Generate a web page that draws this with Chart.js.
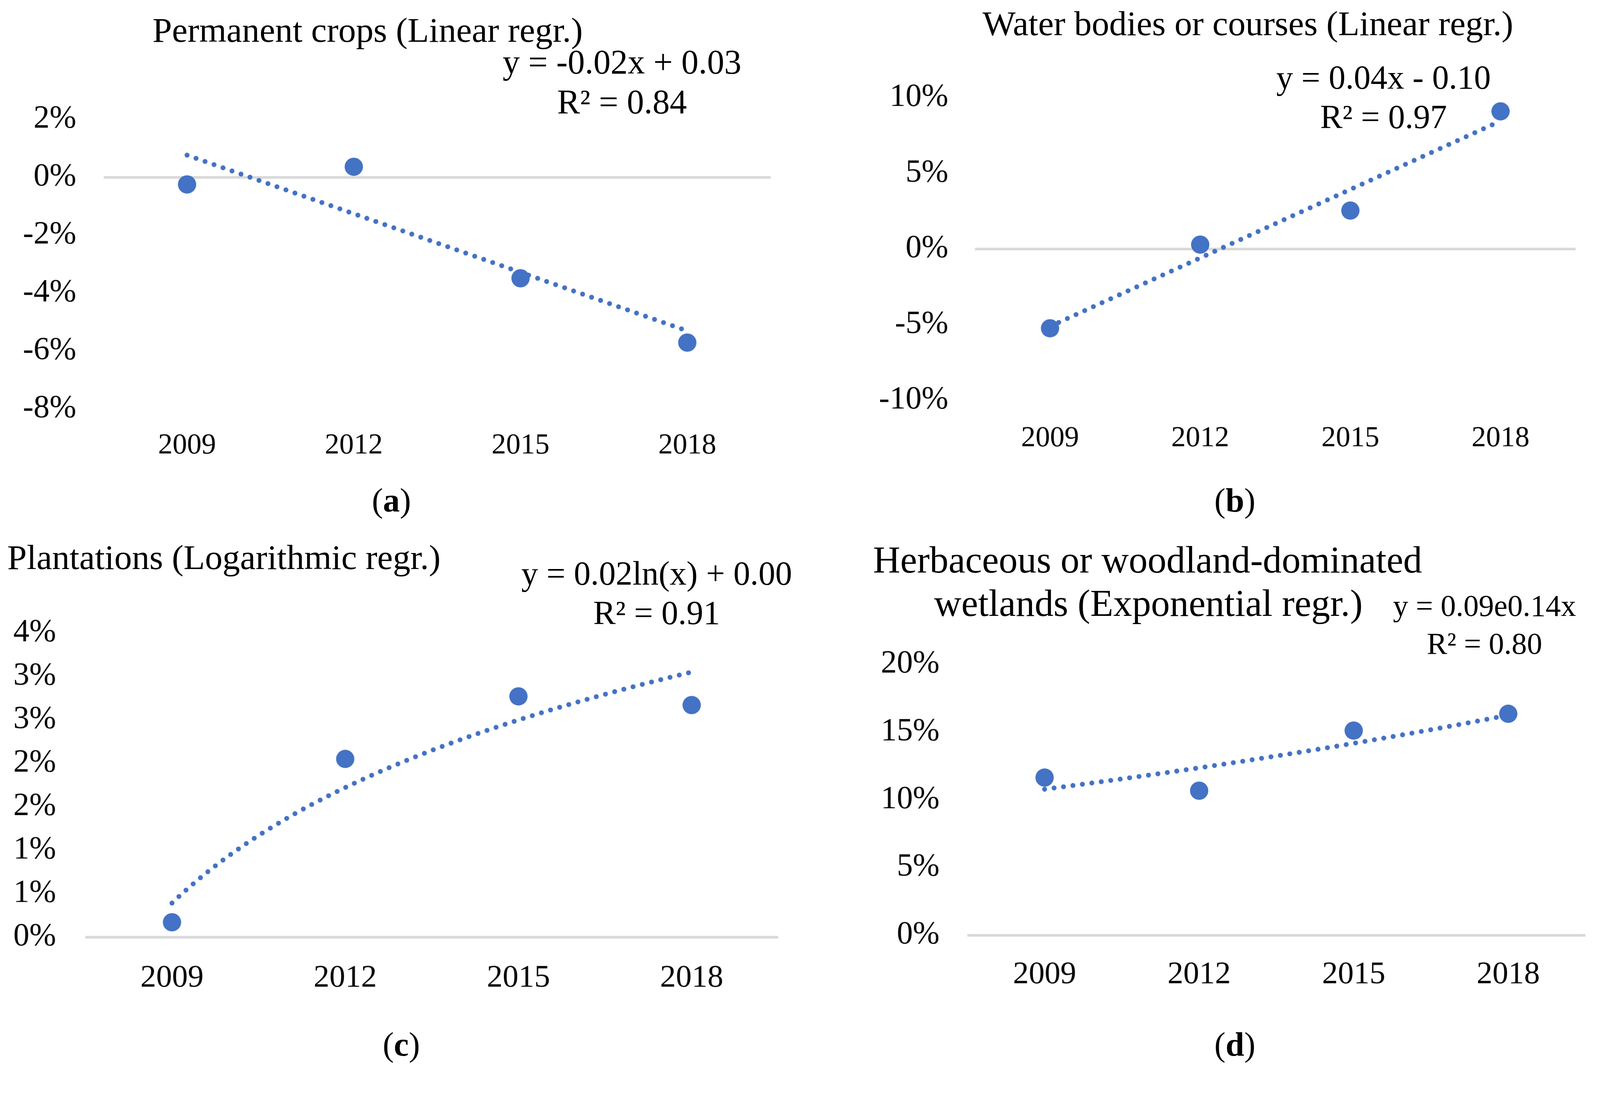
<!DOCTYPE html>
<html>
<head>
<meta charset="utf-8">
<script src="https://cdn.jsdelivr.net/npm/chart.js@4.4.0/dist/chart.umd.min.js"></script>
<style>
  html, body { margin: 0; padding: 0; background: #fff; overflow: hidden; }
  body { font-family: "Liberation Serif", "Times New Roman", serif; color: #000; }
  #page { position: absolute; left: 0; top: 0; width: 4198px; height: 2814px; transform-origin: 0 0; }
  canvas { position: absolute; }
  .t { position: absolute; white-space: nowrap; line-height: 1; z-index: 2; }
  .c { transform: translateX(-50%); }
</style>
</head>
<body>
<div id="page">

<canvas id="chartA" width="2099" height="1400" style="left:0px;top:0px"></canvas>
<canvas id="chartB" width="2099" height="1400" style="left:2099px;top:0px"></canvas>
<canvas id="chartC" width="2099" height="1414" style="left:0px;top:1400px"></canvas>
<canvas id="chartD" width="2099" height="1414" style="left:2099px;top:1400px"></canvas>

<!-- titles, trendline labels, captions -->
<div class="t" style="left:400px;top:33px;font-size:92px">Permanent crops (Linear regr.)</div>
<div class="t c" style="left:1632px;top:118px;font-size:90px">y = -0.02x + 0.03</div>
<div class="t c" style="left:1632px;top:222px;font-size:90px">R² = 0.84</div>
<div class="t c" style="left:1027px;top:1270px;font-size:88px">(<b>a</b>)</div>

<div class="t" style="left:2578px;top:15px;font-size:92px">Water bodies or courses (Linear regr.)</div>
<div class="t c" style="left:3630px;top:160px;font-size:88px">y = 0.04x - 0.10</div>
<div class="t c" style="left:3630px;top:263px;font-size:88px">R² = 0.97</div>
<div class="t c" style="left:3240px;top:1270px;font-size:88px">(<b>b</b>)</div>

<div class="t" style="left:19px;top:1416px;font-size:92px">Plantations (Logarithmic regr.)</div>
<div class="t c" style="left:1723px;top:1461px;font-size:88px">y = 0.02ln(x) + 0.00</div>
<div class="t c" style="left:1723px;top:1565px;font-size:88px">R² = 0.91</div>
<div class="t c" style="left:1053px;top:2697px;font-size:88px">(<b>c</b>)</div>

<div class="t c" style="left:3011px;top:1419px;font-size:99px">Herbaceous or woodland-dominated</div>
<div class="t c" style="left:3013px;top:1533px;font-size:99px">wetlands (Exponential regr.)</div>
<div class="t c" style="left:3895px;top:1549px;font-size:80px">y = 0.09e0.14x</div>
<div class="t c" style="left:3895px;top:1649px;font-size:80px">R² = 0.80</div>
<div class="t c" style="left:3240px;top:2697px;font-size:88px">(<b>d</b>)</div>

</div>

<script>
// categories
const years = ['2009', '2012', '2015', '2018'];
const xIndex = [1, 2, 3, 4];

// change in %
const cropsValues = [-0.25, 0.36, -3.49, -5.71];
const waterValues = [-5.25, 0.28, 2.53, 9.09];
const plantValues = [0.17, 2.05, 2.77, 2.67];
const wetlandValues = [11.63, 10.66, 15.10, 16.34];

// y tick values
const cropsTicks = [-8, -6, -4, -2, 0, 2];
const waterTicks = [-10, -5, 0, 5, 10];
const plantTicks = [0, 0.5, 1, 1.5, 2, 2.5, 3, 3.5];
const wetlandTicks = [0, 5, 10, 15, 20];

const blue = '#4472C4';
const serif = "'Liberation Serif', 'Times New Roman', serif";

// fit the whole 4198x2814 layout into whatever viewport we really get
const page = document.getElementById('page');
const fit = Math.min(window.innerWidth / 4198, window.innerHeight / 2814);
page.style.transform = 'scale(' + fit + ')';
document.body.style.width = (4198 * fit) + 'px';
document.body.style.height = (2814 * fit) + 'px';

// least squares, like the excel trendlines
function leastSquares(xs, ys) {
  const n = xs.length;
  const mx = xs.reduce((a, b) => a + b, 0) / n;
  const my = ys.reduce((a, b) => a + b, 0) / n;
  let sxy = 0, sxx = 0;
  for (let i = 0; i < n; i++) {
    sxy += (xs[i] - mx) * (ys[i] - my);
    sxx += (xs[i] - mx) * (xs[i] - mx);
  }
  const slope = sxy / sxx;
  return { slope: slope, icept: my - slope * mx };
}

function trendPoints(values, kind) {
  let f;
  if (kind === 'log') {
    const r = leastSquares(xIndex.map(Math.log), values);
    f = x => r.icept + r.slope * Math.log(x);
  } else if (kind === 'exp') {
    const r = leastSquares(xIndex, values.map(Math.log));
    f = x => Math.exp(r.icept + r.slope * x);
  } else {
    const r = leastSquares(xIndex, values);
    f = x => r.icept + r.slope * x;
  }
  const pts = [];
  const steps = kind === 'linear' ? 1 : 90;
  for (let i = 0; i <= steps; i++) {
    const x = 1 + 3 * i / steps;
    pts.push({ x: x, y: f(x) });
  }
  return pts;
}

function drawPanel(id, values, ticks, kind, box) {
  new Chart(document.getElementById(id), {
    type: 'scatter',
    data: {
      datasets: [
        {
          data: values.map((v, i) => ({ x: xIndex[i], y: v })),
          pointRadius: 24,
          pointHoverRadius: 24,
          backgroundColor: blue,
          borderWidth: 0,
          clip: false,
          order: 1
        },
        {
          data: trendPoints(values, kind),
          showLine: true,
          pointRadius: 0,
          borderColor: blue,
          borderWidth: 13,
          borderDash: [0, 25],
          borderCapStyle: 'round',
          tension: 0,
          clip: false,
          order: 2
        }
      ]
    },
    options: {
      responsive: false,
      animation: false,
      devicePixelRatio: 1,
      layout: {
        padding: {
          left: 0,
          top: box.T - box.top,
          right: box.left + box.w - box.R,
          bottom: box.top + box.h - box.B - 150
        }
      },
      plugins: {
        legend: { display: false },
        tooltip: { enabled: false }
      },
      scales: {
        x: {
          type: 'linear',
          min: 0.5,
          max: 4.5,
          afterBuildTicks: s => { s.ticks = xIndex.map(v => ({ value: v })); },
          afterFit: s => { s.height = 150; },
          grid: { display: false },
          border: { display: false },
          ticks: {
            padding: box.xPad,
            maxRotation: 0,
            color: '#000',
            font: { family: serif, size: box.xFont },
            callback: v => years[v - 1]
          }
        },
        y: {
          type: 'linear',
          min: ticks[0],
          max: ticks[ticks.length - 1],
          afterBuildTicks: s => { s.ticks = ticks.map(v => ({ value: v })); },
          afterFit: s => { s.width = box.L - box.left; },
          grid: {
            drawTicks: false,
            color: c => c.tick && c.tick.value === 0 ? '#D9D9D9' : 'rgba(0,0,0,0)',
            lineWidth: c => c.tick && c.tick.value === 0 ? 7 : 0
          },
          border: { display: false },
          ticks: {
            padding: box.yPad,
            color: '#000',
            font: { family: serif, size: box.yFont },
            callback: v => Math.round(v) + '%'
          }
        }
      }
    }
  });
}

drawPanel('chartA', cropsValues, cropsTicks, 'linear',
  { left: 0, top: 0, w: 2099, h: 1400, L: 272, T: 313, R: 2022, B: 1073, yPad: 72, xPad: 43, xFont: 76, yFont: 84 });
drawPanel('chartB', waterValues, waterTicks, 'linear',
  { left: 2099, top: 0, w: 2099, h: 1400, L: 2558, T: 256, R: 4134, B: 1050, yPad: 70, xPad: 47, xFont: 76, yFont: 84 });
drawPanel('chartC', plantValues, plantTicks, 'log',
  { left: 0, top: 1400, w: 2099, h: 1414, L: 224, T: 1661, R: 2042, B: 2459, yPad: 77, xPad: 50, xFont: 83, yFont: 84 });
drawPanel('chartD', wetlandValues, wetlandTicks, 'exp',
  { left: 2099, top: 1400, w: 2099, h: 1414, L: 2538, T: 1743, R: 4160, B: 2454, yPad: 73, xPad: 46, xFont: 83, yFont: 84 });
</script>
</body>
</html>
